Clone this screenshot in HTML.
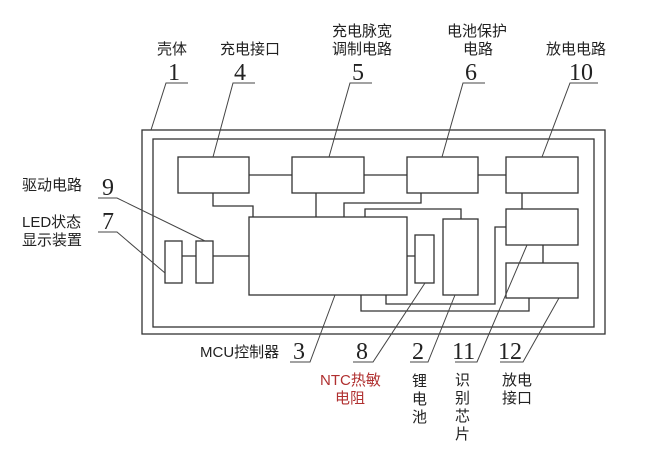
<!DOCTYPE html>
<html><head><meta charset="utf-8"><style>
body{margin:0;background:#fff;width:668px;height:462px;overflow:hidden}
svg text{font-family:"Liberation Sans","Noto Sans CJK SC",sans-serif;font-size:15px;fill:#222}
svg text.n{font-family:"Liberation Serif",serif;font-size:24px}
</style></head><body>
<svg width="668" height="462" viewBox="0 0 668 462" xmlns="http://www.w3.org/2000/svg">
<g fill="none" stroke="#333" stroke-width="1.3">
<rect x="142" y="130" width="463" height="204"/>
<rect x="153" y="139" width="441" height="188"/>
<rect x="178" y="157" width="71" height="36"/>
<rect x="292" y="157" width="72" height="36"/>
<rect x="407" y="157" width="71" height="36"/>
<rect x="506" y="157" width="72" height="36"/>
<rect x="506" y="209" width="72" height="36"/>
<rect x="506" y="263" width="72" height="35"/>
<rect x="249" y="217" width="158" height="78"/>
<rect x="415" y="235" width="19" height="48"/>
<rect x="443" y="219" width="35" height="76"/>
<rect x="165" y="241" width="17" height="42"/>
<rect x="196" y="241" width="17" height="42"/>
<path d="M249 175H292M364 175H407M478 175H506"/>
<path d="M213 193V206H253V217M316 193V217M421 193V203H344V217M365 217V209H461V219"/>
<path d="M522 193V209M543 245V263M182 256H196M213 256H249M407 256H415"/>
<path d="M386 295V304H495V227H506M361 295V311H529V298"/>
</g>
<g fill="none" stroke="#444" stroke-width="1">
<path d="M188 83H166L151 130M255 83H233L213 157M372 83H350L329 157M485 83H463L442 157M598 83H570L542 157"/>
<path d="M98 198H117L205 241M98 232H117L165 273"/>
<path d="M290 362H310L335 295M353 362H373L425 283M410 362H428L455 295M455 362H477L527 245M500 362H523L559 298"/>
</g>
<text x="157" y="54">壳体</text>
<text x="220" y="54">充电接口</text>
<text x="332" y="36">充电脉宽</text>
<text x="332" y="54">调制电路</text>
<text x="447" y="36">电池保护</text>
<text x="463" y="54">电路</text>
<text x="546" y="54">放电电路</text>
<text class="n" x="168" y="80">1</text>
<text class="n" x="234" y="80">4</text>
<text class="n" x="352" y="80">5</text>
<text class="n" x="465" y="80">6</text>
<text class="n" x="569" y="80">10</text>
<text x="22" y="190">驱动电路</text>
<text x="22" y="227">LED状态</text>
<text x="22" y="245">显示装置</text>
<text class="n" x="102" y="195">9</text>
<text class="n" x="102" y="229">7</text>
<text x="200" y="357">MCU控制器</text>
<text class="n" x="293" y="359">3</text>
<text class="n" x="356" y="359">8</text>
<text class="n" x="412" y="359">2</text>
<text class="n" x="452" y="359">11</text>
<text class="n" x="498" y="359">12</text>
<text x="320" y="385" style="fill:#b03030">NTC热敏</text>
<text x="335" y="403" style="fill:#b03030">电阻</text>
<text x="412" y="386">锂</text><text x="412" y="404">电</text><text x="412" y="422">池</text>
<text x="455" y="385">识</text><text x="455" y="403">别</text><text x="455" y="421">芯</text><text x="455" y="439">片</text>
<text x="502" y="385">放电</text>
<text x="502" y="403">接口</text>
</svg>
</body></html>
